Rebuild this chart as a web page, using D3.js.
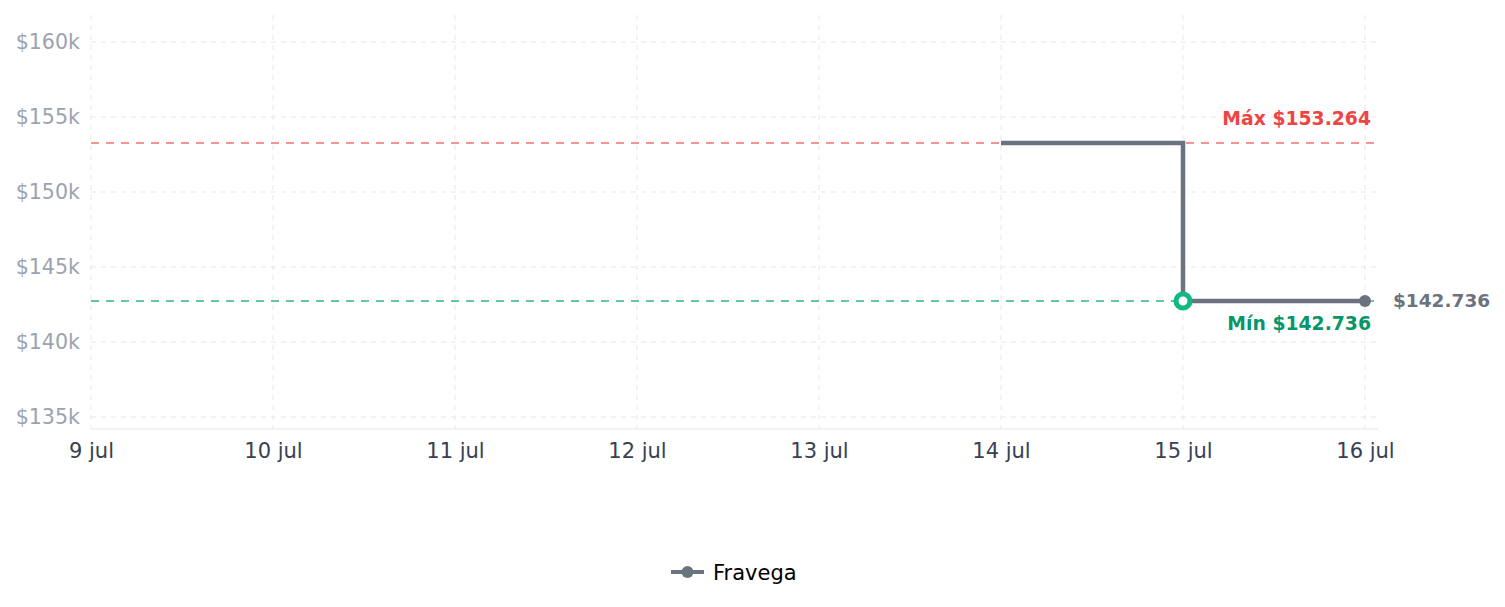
<!DOCTYPE html>
<html>
<head>
<meta charset="utf-8">
<title></title>
<script src="https://cdnjs.cloudflare.com/ajax/libs/d3/7.8.5/d3.min.js"></script>
<style>
  body { margin: 0; background: #fff; font-family: "DejaVu Sans", sans-serif; }
</style>
</head>
<body>
<div id="chart"></div>
<script>
// data
var days = ["9 jul", "10 jul", "11 jul", "12 jul", "13 jul", "14 jul", "15 jul", "16 jul"];
var priceDays = ["14 jul", "15 jul", "16 jul"];
var prices = [153264, 142736, 142736];
var yTicks = [135000, 140000, 145000, 150000, 155000, 160000];
var seriesName = "Fravega";

var w = 1505, h = 607;
var plotL = 91, plotR = 1378, plotT = 15, plotB = 429;

var svg = d3.select("#chart").append("svg")
    .attr("width", w)
    .attr("height", h);

var x = d3.scalePoint().domain(days).range([plotL, 1365]);
var y = d3.scaleLinear().domain([134200, 161800]).range([plotB, plotT]);

var fmt = function (v) { return "$" + d3.format(",")(v).replace(/,/g, "."); };

// grid
svg.append("g").selectAll("line").data(yTicks).enter().append("line")
    .attr("x1", plotL).attr("x2", plotR)
    .attr("y1", d => y(d)).attr("y2", d => y(d))
    .attr("stroke", "#e5e7eb").attr("stroke-dasharray", "5,5");
svg.append("g").selectAll("line").data(days).enter().append("line")
    .attr("x1", d => x(d)).attr("x2", d => x(d))
    .attr("y1", plotT).attr("y2", plotB)
    .attr("stroke", "#e5e7eb").attr("stroke-dasharray", "5,5");

// axes
var yAxis = svg.append("g")
    .attr("transform", "translate(" + plotL + ",0)")
    .call(d3.axisLeft(y).tickValues(yTicks).tickSize(0).tickPadding(11)
        .tickFormat(d => "$" + (d / 1000) + "k"));
yAxis.select(".domain").remove();
yAxis.selectAll("text").attr("fill", "#9ca3af").style("font-size", "20.6px")
    .style("font-family", "DejaVu Sans");

var xAxis = svg.append("g")
    .attr("transform", "translate(0," + plotB + ")")
    .call(d3.axisBottom(x).tickSize(0).tickPadding(14));
xAxis.select(".domain").attr("stroke", "#e5e7eb").attr("d", "M" + plotL + ",0H" + plotR);
xAxis.selectAll("text").attr("fill", "#374151").style("font-size", "21px")
    .style("font-family", "DejaVu Sans");

var maxV = d3.max(prices), minV = d3.min(prices);

// reference lines
svg.append("line")
    .attr("x1", plotL).attr("x2", plotR)
    .attr("y1", y(maxV)).attr("y2", y(maxV))
    .attr("stroke", "#f87171").attr("stroke-width", 1.5)
    .attr("stroke-dasharray", "8,7");
svg.append("line")
    .attr("x1", plotL).attr("x2", plotR)
    .attr("y1", y(minV)).attr("y2", y(minV))
    .attr("stroke", "#34b38a").attr("stroke-width", 1.5)
    .attr("stroke-dasharray", "8,7");

svg.append("text")
    .attr("x", 1371).attr("y", y(maxV) - 18)
    .attr("text-anchor", "end")
    .attr("fill", "#ef4444").attr("font-weight", "bold")
    .style("font-size", "18.8px")
    .text("Máx " + fmt(maxV));
svg.append("text")
    .attr("x", 1371).attr("y", y(minV) + 29)
    .attr("text-anchor", "end")
    .attr("fill", "#059669").attr("font-weight", "bold")
    .style("font-size", "18.8px")
    .text("Mín " + fmt(minV));

// step line
var pts = priceDays.map((d, i) => [x(d), y(prices[i])]);
svg.append("path")
    .attr("d", d3.line().curve(d3.curveStepAfter)(pts))
    .attr("fill", "none")
    .attr("stroke", "#6b7280")
    .attr("stroke-width", 4.5);

// min marker
var minIdx = prices.indexOf(minV);
svg.append("circle")
    .attr("cx", x(priceDays[minIdx])).attr("cy", y(minV))
    .attr("r", 7)
    .attr("fill", "#fff").attr("stroke", "#10b981").attr("stroke-width", 5);

// last point
var last = prices.length - 1;
svg.append("circle")
    .attr("cx", x(priceDays[last])).attr("cy", y(prices[last]))
    .attr("r", 6).attr("fill", "#6b7280");
svg.append("text")
    .attr("x", 1393).attr("y", y(prices[last]) + 6)
    .attr("fill", "#6b7280").attr("font-weight", "bold")
    .style("font-size", "18.5px")
    .text(fmt(prices[last]));

// legend
var lg = svg.append("g").attr("transform", "translate(671,572)");
lg.append("line").attr("x1", 0).attr("x2", 33).attr("y1", 0).attr("y2", 0)
    .attr("stroke", "#6b7280").attr("stroke-width", 4);
lg.append("circle").attr("cx", 16.5).attr("cy", 0).attr("r", 6).attr("fill", "#6b7280");
lg.append("text").attr("x", 42).attr("y", 8)
    .attr("fill", "#000").style("font-size", "21px")
    .text(seriesName);
</script>
</body>
</html>
